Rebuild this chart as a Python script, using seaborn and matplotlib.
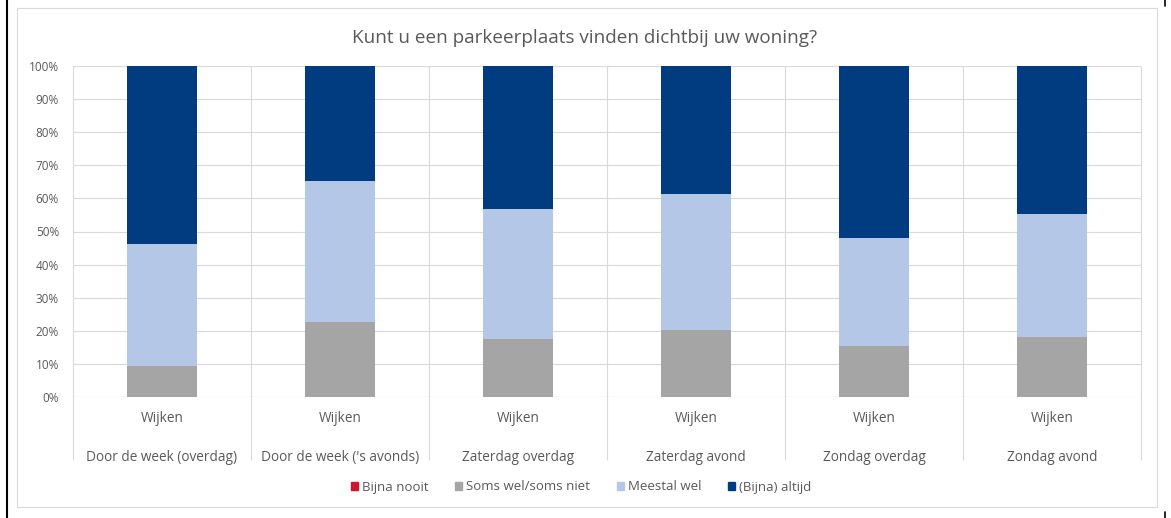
import matplotlib
matplotlib.use("Agg")
import matplotlib.pyplot as plt
import seaborn as sns
import pandas as pd
import numpy as np
from matplotlib.lines import Line2D
from matplotlib.patches import Rectangle

categories = ["Door de week (overdag)", "Door de week ('s avonds)", "Zaterdag overdag",
              "Zaterdag avond", "Zondag overdag", "Zondag avond"]
group_label = "Wijken"
series = ["Bijna nooit", "Soms wel/soms niet", "Meestal wel", "(Bijna) altijd"]
bijna_nooit = [0.0, 0.0, 0.0, 0.0, 0.0, 0.0]
soms = [9.5, 22.7, 17.5, 20.2, 15.4, 18.1]
meestal = [36.7, 42.6, 39.3, 41.1, 32.6, 37.2]
altijd = [53.8, 34.7, 43.2, 38.7, 52.0, 44.7]
colors = ["#D0142C", "#A5A5A5", "#B4C7E7", "#003C7F"]
title = "Kunt u een parkeerplaats vinden dichtbij uw woning?"

sns.set_theme(style="white")
plt.rcParams['font.family'] = ['Open Sans', 'DejaVu Sans']

fig = plt.figure(figsize=(11.71, 5.18), dpi=100)
ax = fig.add_axes([73/1171, 1-397/518, (1141-73)/1171, (397-66)/518])

vals = np.array([bijna_nooit, soms, meestal, altijd])
cum = vals.cumsum(axis=0)
xlabels = [f"{group_label}\n\n{c}" for c in categories]
for i in range(len(series) - 1, -1, -1):
    df = pd.DataFrame({"cat": xlabels, "val": cum[i]})
    sns.barplot(data=df, x="cat", y="val", color=colors[i], width=0.395,
                saturation=1, ax=ax, linewidth=0, zorder=3)

ax.set_ylim(0, 100)
ax.set_xlim(-0.5, len(categories) - 0.5)
ax.set_yticks(np.arange(0, 101, 10))
ax.set_yticklabels([f"{v}%" for v in range(0, 101, 10)], fontsize=8.5, color="#595959")
ax.tick_params(axis="x", length=0, pad=10, labelsize=9.8, labelcolor="#595959")
ax.tick_params(axis="y", length=0, pad=10)
for lbl in ax.get_xticklabels():
    lbl.set_linespacing(1.4)
ax.set_xlabel("")
ax.set_ylabel("")
ax.grid(axis="y", color="#D9D9D9", linewidth=0.8, zorder=0)
for s in ax.spines.values():
    s.set_visible(False)
ax.axhline(0, color="#D9D9D9", linewidth=0.8, zorder=1)
ax.vlines(np.arange(-0.5, len(categories) + 0.5, 1), -0.19, 1,
          transform=ax.get_xaxis_transform(), colors="#D9D9D9", linewidth=0.8,
          clip_on=False, zorder=1)

fig.text(585/1171, 1-38/518, title, ha="center", va="center", fontsize=13.6, color="#595959")

handles = [Rectangle((0, 0), 1, 1, color=c) for c in colors]
fig.legend(handles, series, loc="center", bbox_to_anchor=(581/1171, 1-487/518), ncol=4,
           frameon=False, fontsize=9.5, labelcolor="#595959", handlelength=0.55,
           handleheight=0.55, handletextpad=0.3, columnspacing=2.0)

fig.add_artist(Rectangle((17/1171, 1-507/518), (1157-17)/1171, (507-8)/518,
                         transform=fig.transFigure, fill=False, edgecolor="#D9D9D9", linewidth=0.8))
fig.add_artist(Line2D([7/1171, 7/1171], [0, 1], transform=fig.transFigure, color="black", linewidth=1.5))
fig.add_artist(Line2D([1165/1171, 1165/1171], [1-6/518, 1], transform=fig.transFigure, color="black", linewidth=1.2))
fig.add_artist(Line2D([1165/1171, 1165/1171], [0, 6/518], transform=fig.transFigure, color="black", linewidth=1.2))

fig.savefig("out.png", dpi=100)
